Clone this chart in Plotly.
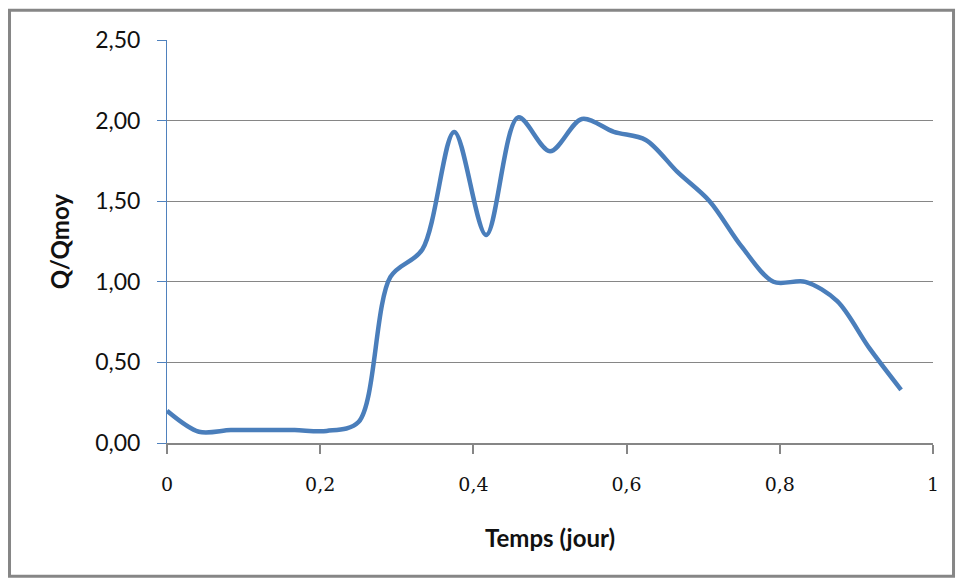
import plotly.graph_objects as go

# Hourly flow ratio over one day
temps = [h / 24 for h in range(24)]
q_qmoy = [0.20, 0.07, 0.08, 0.08, 0.08, 0.075, 0.13, 1.03, 1.20, 1.93, 1.29, 2.02,
          1.81, 2.01, 1.93, 1.88, 1.68, 1.50, 1.22, 1.00, 1.00, 0.88, 0.59, 0.33]

x_ticks = [0, 0.2, 0.4, 0.6, 0.8, 1]
x_ticktext = ["0", "0,2", "0,4", "0,6", "0,8", "1"]
y_ticks = [0, 0.5, 1.0, 1.5, 2.0, 2.5]
y_ticktext = ["0,00", "0,50", "1,00", "1,50", "2,00", "2,50"]

fig = go.Figure()
fig.add_trace(go.Scatter(
    x=temps, y=q_qmoy, mode="lines",
    line=dict(color="#4A7EBB", width=4.5, shape="spline", smoothing=0.9),
    showlegend=False, hoverinfo="skip",
))

grey = "#868686"
fig.update_layout(
    width=956, height=578,
    margin=dict(l=167, r=23, t=40, b=135),
    paper_bgcolor="white", plot_bgcolor="white",
    xaxis=dict(
        range=[0, 1], tickvals=x_ticks, ticktext=x_ticktext,
        showgrid=False, zeroline=False,
        showline=True, linecolor=grey, linewidth=2,
        ticks="outside", ticklen=9, tickwidth=2, tickcolor=grey,
        tickfont=dict(family="DejaVu Serif", size=19, color="#111"),
        ticklabelstandoff=14,
    ),
    yaxis=dict(
        range=[0, 2.5], tickvals=y_ticks, ticktext=y_ticktext,
        showgrid=True, gridcolor=grey, gridwidth=1, zeroline=False,
        showline=True, linecolor="#4F81BD", linewidth=1,
        ticks="outside", ticklen=9, tickwidth=1, tickcolor="#4F81BD",
        tickfont=dict(family="Lato", size=23, color="#111"),
        ticklabelstandoff=12,
    ),
    annotations=[
        dict(text="<b>Temps (jour)</b>", xref="paper", yref="paper",
             x=0.5, y=-0.234, xanchor="center", yanchor="middle",
             showarrow=False, font=dict(family="Lato", size=24, color="#111")),
        dict(text="<b>Q/Qmoy</b>", xref="paper", yref="paper",
             x=-0.140, y=0.5, xanchor="center", yanchor="middle", textangle=-90,
             showarrow=False, font=dict(family="Lato", size=24, color="#111")),
    ],
    shapes=[
        dict(type="rect", xref="paper", yref="paper",
             x0=-0.2056, x1=1.0268, y0=-0.3308, y1=1.0737,
             line=dict(color=grey, width=3), fillcolor="rgba(0,0,0,0)", layer="below"),
    ],
)

fig.write_html("out.html")
